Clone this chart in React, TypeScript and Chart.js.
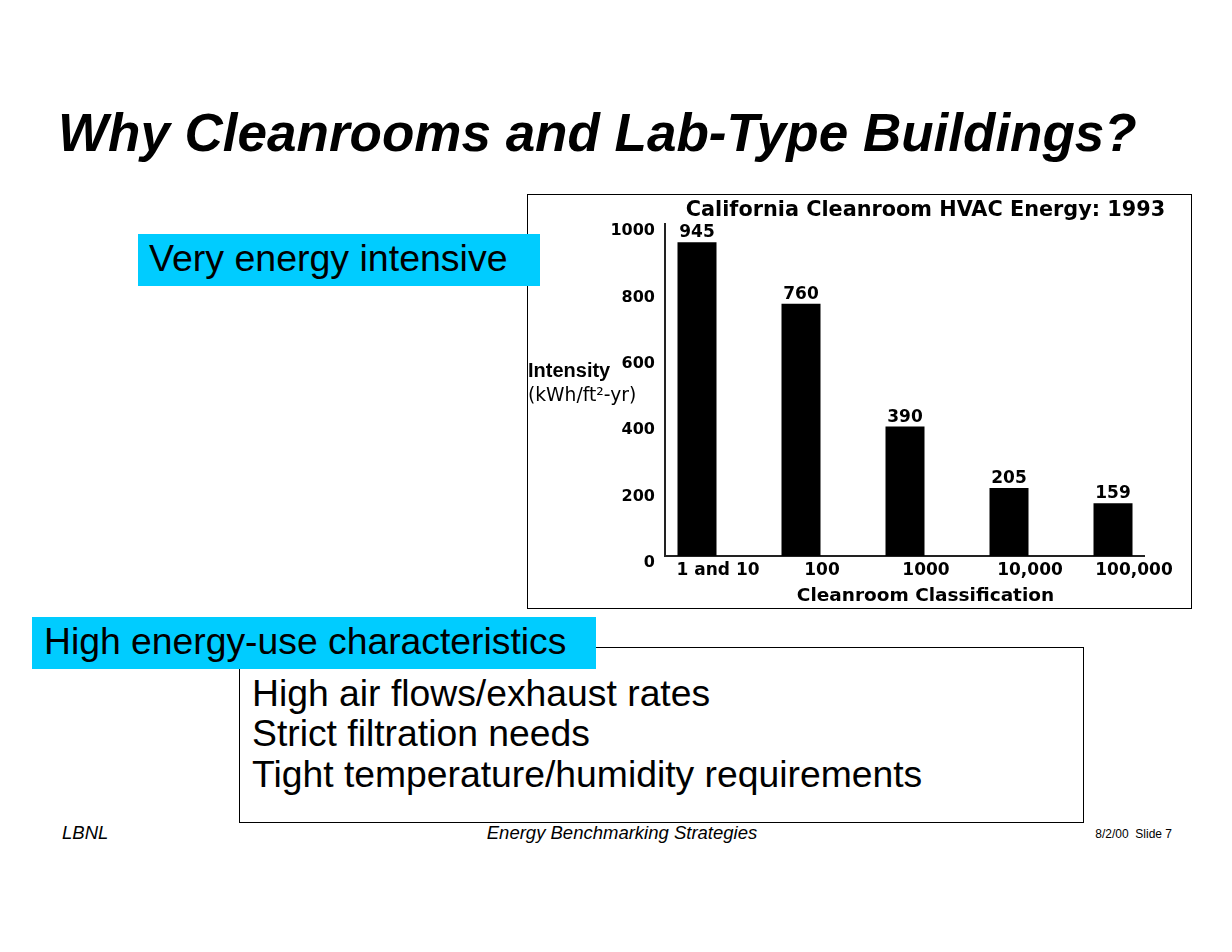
import React, { useEffect, useRef } from 'react';
import { Chart, registerables } from 'chart.js';

Chart.register(...registerables);

// ---- data ----
const categories = ['1 and 10', '100', '1000', '10,000', '100,000'];
const intensity = [945, 760, 390, 205, 159];
const yTicks = [0, 200, 400, 600, 800, 1000];
const chartTitle = 'California Cleanroom HVAC Energy: 1993';
const yTitleLines = ['Intensity', '(kWh/ft²-yr)'];
const xTitle = 'Cleanroom Classification';
const slideTitle = 'Why Cleanrooms and Lab-Type Buildings?';
const callout1 = 'Very energy intensive';
const callout2 = 'High energy-use characteristics';
const bullets = ['High air flows/exhaust rates', 'Strict filtration needs', 'Tight temperature/humidity requirements'];
const footerLeft = 'LBNL';
const footerCenter = 'Energy Benchmarking Strategies';
const footerRight = '8/2/00  Slide 7';

const CANVAS_W = 663;
const CANVAS_H = 413;
const LABEL_SHIFT = 21;

function CleanroomChart() {
  const ref = useRef<HTMLCanvasElement | null>(null);

  useEffect(() => {
    const canvas = ref.current;
    if (!canvas) return;

    const textPlugin = {
      id: 'slideText',
      afterDraw(chart: any) {
        const ctx = chart.ctx as CanvasRenderingContext2D;
        const area = chart.chartArea;
        ctx.save();
        ctx.fillStyle = '#000';
        ctx.textBaseline = 'alphabetic';

        // value labels above bars
        ctx.font = 'bold 17px "DejaVu Sans"';
        ctx.textAlign = 'center';
        const meta = chart.getDatasetMeta(0);
        meta.data.forEach((bar: any, i: number) => {
          ctx.fillText(String(intensity[i]), bar.x, bar.y - 5);
        });

        const centerX = (area.left + area.right) / 2 + LABEL_SHIFT;

        // chart title
        ctx.font = 'bold 20.8px "DejaVu Sans"';
        ctx.fillText(chartTitle, centerX, 21);

        // x title
        ctx.font = 'bold 18.5px "DejaVu Sans"';
        ctx.fillText(xTitle, centerX, 406);

        // y title (horizontal)
        ctx.textAlign = 'left';
        ctx.font = 'bold 20px "Liberation Sans"';
        ctx.fillText(yTitleLines[0], 0, 182);
        ctx.font = '18.7px "DejaVu Sans"';
        ctx.fillText(yTitleLines[1], 0, 206);
        ctx.restore();
      },
    };

    const chart = new Chart(canvas, {
      type: 'bar',
      data: {
        datasets: [
          {
            label: 'Intensity',
            data: intensity.map((v, i) => ({ x: i, y: v })),
            backgroundColor: '#000',
            borderColor: '#000',
            borderWidth: 0,
            categoryPercentage: 1,
            barPercentage: 0.375,
          },
        ],
      },
      options: {
        responsive: false,
        animation: false,
        devicePixelRatio: 1,
        layout: { padding: { top: 29, right: 47, bottom: 0, left: 0 } },
        plugins: {
          legend: { display: false },
          title: { display: false },
          tooltip: { enabled: false },
        },
        scales: {
          x: {
            type: 'linear',
            offset: false,
            min: -0.3077,
            max: 4.298,
            afterFit: (s: any) => {
              s.height = 52;
            },
            grid: { display: false, drawTicks: false, offset: false },
            border: { display: true, color: '#222', width: 2 },
            ticks: {
              stepSize: 1,
              includeBounds: false,
              autoSkip: false,
              maxRotation: 0,
              minRotation: 0,
              labelOffset: LABEL_SHIFT,
              padding: 4,
              color: '#000',
              font: { family: 'DejaVu Sans', weight: 'bold', size: 17 },
              callback: (v: any) => (Number.isInteger(v) ? categories[v] ?? '' : ''),
            },
          },
          y: {
            min: 0,
            max: 1000,
            afterFit: (s: any) => {
              s.width = 137;
            },
            afterBuildTicks: (s: any) => {
              s.ticks = yTicks.map((v) => ({ value: v }));
            },
            grid: { display: false, drawTicks: false },
            border: { display: true, color: '#222', width: 2 },
            ticks: {
              padding: 10,
              labelOffset: 7,
              color: '#000',
              font: { family: 'DejaVu Sans', weight: 'bold', size: 16 },
              callback: (v: any) => String(v),
            },
          },
        },
      },
      plugins: [textPlugin],
    } as any);

    return () => chart.destroy();
  }, []);

  return <canvas ref={ref} width={CANVAS_W} height={CANVAS_H} style={{ display: 'block', width: CANVAS_W, height: CANVAS_H }} />;
}

const abs = (s: React.CSSProperties): React.CSSProperties => ({ position: 'absolute', whiteSpace: 'pre', ...s });

export default function App() {
  const sans = '"Liberation Sans", Arial, Helvetica, sans-serif';
  return (
    <div
      style={{
        position: 'absolute',
        left: 0,
        top: 0,
        width: 1232,
        height: 952,
        background: '#fff',
        overflow: 'hidden',
        fontFamily: sans,
        color: '#000',
      }}
    >
      {/* Slide title */}
      <div style={abs({ left: 58, top: 105.5, fontSize: 53, lineHeight: '53px', fontWeight: 'bold', fontStyle: 'italic' })}>
        {slideTitle}
      </div>

      {/* Chart box */}
      <div style={abs({ left: 527, top: 194, width: CANVAS_W, height: CANVAS_H, border: '1px solid #000', background: '#fff' })}>
        <CleanroomChart />
      </div>

      {/* Callout 1 */}
      <div style={abs({ left: 138, top: 234, width: 402, height: 52, background: '#00CCFF' })} />
      <div style={abs({ left: 149, top: 240, fontSize: 37.5, lineHeight: '37.5px' })}>{callout1}</div>

      {/* Bullet box */}
      <div style={abs({ left: 239, top: 647, width: 843, height: 174, border: '1px solid #000', background: '#fff' })} />
      {bullets.map((b, i) => (
        <div key={b} style={abs({ left: 252, top: 672.6 + i * 40.5, fontSize: 37.3, lineHeight: '40.5px' })}>
          {b}
        </div>
      ))}

      {/* Callout 2 */}
      <div style={abs({ left: 32, top: 617, width: 564, height: 52, background: '#00CCFF' })} />
      <div style={abs({ left: 44, top: 623, fontSize: 37.3, lineHeight: '37.3px' })}>{callout2}</div>

      {/* Footer */}
      <div style={abs({ left: 62, top: 824, fontSize: 18.5, lineHeight: '18.5px', fontStyle: 'italic' })}>{footerLeft}</div>
      <div style={abs({ left: 422, width: 400, textAlign: 'center', top: 824, fontSize: 18.5, lineHeight: '18.5px', fontStyle: 'italic' })}>
        {footerCenter}
      </div>
      <div style={abs({ left: 1072, width: 100, textAlign: 'right', top: 828, fontSize: 12, lineHeight: '12px' })}>{footerRight}</div>
    </div>
  );
}
